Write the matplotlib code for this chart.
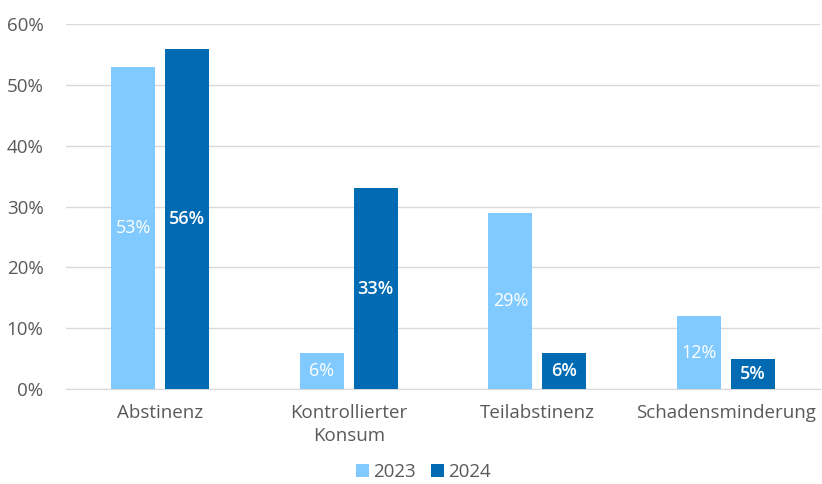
from matplotlib import pyplot as plt
import numpy as np

categories = ['Abstinenz', 'Kontrollierter\nKonsum', 'Teilabstinenz', 'Schadensminderung']
values_2023 = [53, 6, 29, 12]
values_2024 = [56, 33, 6, 5]

plt.rcParams['font.family'] = ['Open Sans', 'DejaVu Sans']
grey = '#595959'

fig = plt.figure(figsize=(8.22, 4.84), dpi=100)
ax = fig.add_axes([0.080, 0.196, 0.918, 0.754])

x = np.arange(len(categories))
width = 0.233
gap = 0.053

b1 = ax.bar(x - (width + gap) / 2, values_2023, width=width, color='#80CAFF', label='2023', zorder=3)
b2 = ax.bar(x + (width + gap) / 2, values_2024, width=width, color='#006AB3', label='2024', zorder=3)

# labels in the middle of each bar
for bars, wt in ((b1, 'medium'), (b2, 'semibold')):
    for bar in bars:
        h = bar.get_height()
        ax.text(bar.get_x() + bar.get_width() / 2, h / 2, f'{h:.0f}%',
                ha='center', va='center', color='white', fontsize=13, fontweight=wt, zorder=4)

ax.set_xlim(-0.5, 3.5)
ax.set_ylim(0, 60)
ax.set_yticks(range(0, 61, 10))
ax.set_yticklabels([f'{v}%' for v in range(0, 61, 10)])
ax.set_xticks(x)
ax.set_xticklabels(categories, linespacing=1.3)
ax.tick_params(axis='both', length=0, labelsize=13.5, colors=grey)
ax.tick_params(axis='y', pad=16)
ax.tick_params(axis='x', pad=11)
ax.grid(axis='y', color='#d9d9d9', linewidth=1, zorder=0)
for s in ['top', 'right', 'left']:
    ax.spines[s].set_visible(False)
ax.spines['bottom'].set_color('#d9d9d9')

fig.legend(loc='lower center', bbox_to_anchor=(0.515, -0.028), ncol=2, frameon=False,
           fontsize=13.5, labelcolor=grey, handlelength=0.7, handleheight=0.7,
           handletextpad=0.2, columnspacing=0.8)

plt.savefig('out.png', dpi=100)
